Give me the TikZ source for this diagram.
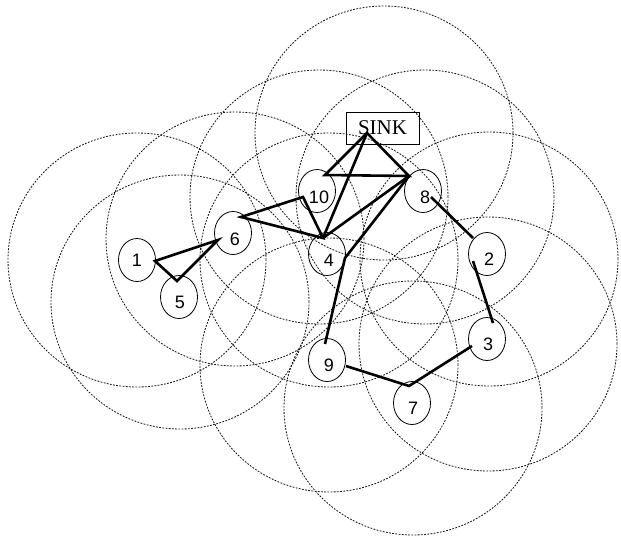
\documentclass[tikz,border=0pt]{standalone}
\usepackage{fontspec}
\setmainfont{Liberation Sans}
\newfontfamily\sinkfont{Liberation Serif}
\usetikzlibrary{shapes.geometric}
\begin{document}
\begin{tikzpicture}[x=1pt,y=-1pt,
  rangecirc/.style={draw=black!90,line width=0.85pt,dash pattern=on 1.8pt off 1.4pt},
  nd/.style={draw,ellipse,line width=0.8pt,minimum width=37pt,minimum height=43pt,inner sep=0pt},
  lbl/.style={inner sep=0pt,font=\fontsize{18}{18}\selectfont},
  sinkbox/.style={draw,line width=0.8pt,minimum width=73pt,minimum height=32pt,inner sep=0pt,font=\sinkfont\fontsize{21}{21}\selectfont},
  link/.style={line width=2.6pt,line join=miter}]
\useasboundingbox (0,0) rectangle (621,539);

% node ellipses
\node[nd] (n1) at (137,260) {};
\node[nd] (n5) at (179,297) {};
\node[nd] (n6) at (233,233) {};
\node[nd] (n10) at (317,191) {};
\node[nd] (n4) at (327,254) {};
\node[nd] (n8) at (423,191) {};
\node[nd] (n2) at (487,254) {};
\node[nd] (n3) at (487,339) {};
\node[nd] (n9) at (327,360) {};
\node[nd] (n7) at (412,403) {};
\node[sinkbox] (sink) at (382.5,128) {SINK};

% labels
\node[lbl] (l1) at (137,260) {1};
\node[lbl] (l5) at (180,302) {5};
\node[lbl] (l6) at (235,239) {6};
\node[lbl] (l10) at (319,197) {10};
\node[lbl] (l4) at (329,260) {4};
\node[lbl] (l8) at (425,197) {8};
\node[lbl] (l2) at (489,259) {2};
\node[lbl] (l3) at (488,344) {3};
\node[lbl] (l9) at (329,365) {9};
\node[lbl] (l7) at (413,408) {7};
\coordinate (cs) at (384,133);

% range circles
\foreach \c in {l1,l5,l6,l10,l4,cs,l8,l2,l3,l9,l7}
  \draw[rangecirc] (\c) ellipse [x radius=129pt, y radius=127pt];

% attachment points
\coordinate (a1) at (155,261);
\coordinate (a5) at (177,281);
\coordinate (a6) at (218,240);
\coordinate (b6) at (241,217);
\coordinate (a10) at (303,197);
\coordinate (t10) at (325,175);
\coordinate (a4) at (323,238);
\coordinate (s) at (367,133);
\coordinate (a8) at (409,176);
\coordinate (k) at (345,258);
\coordinate (a9) at (325,344);
\coordinate (b9) at (346,366);
\coordinate (b8) at (431,197);
\coordinate (a2) at (473,238);
\coordinate (b2) at (473,261);
\coordinate (a3) at (493,323);
\coordinate (b3) at (472,346);
\coordinate (a7) at (409,386);

% links
\draw[link] (a6) -- (a1) -- (a5) -- cycle;
\draw[link] (a10) -- (b6) -- (a4) -- cycle;
\draw[link] (a4) -- (s);
\draw[link] (a4) -- (a8);
\draw[link] (t10) -- (s) -- (a8) -- cycle;
\draw[link] (a8) -- (k) -- (a9);
\draw[link] (b8) -- (a2);
\draw[link] (b2) -- (a3);
\draw[link] (b3) -- (a7) -- (b9);
\end{tikzpicture}
\end{document}
